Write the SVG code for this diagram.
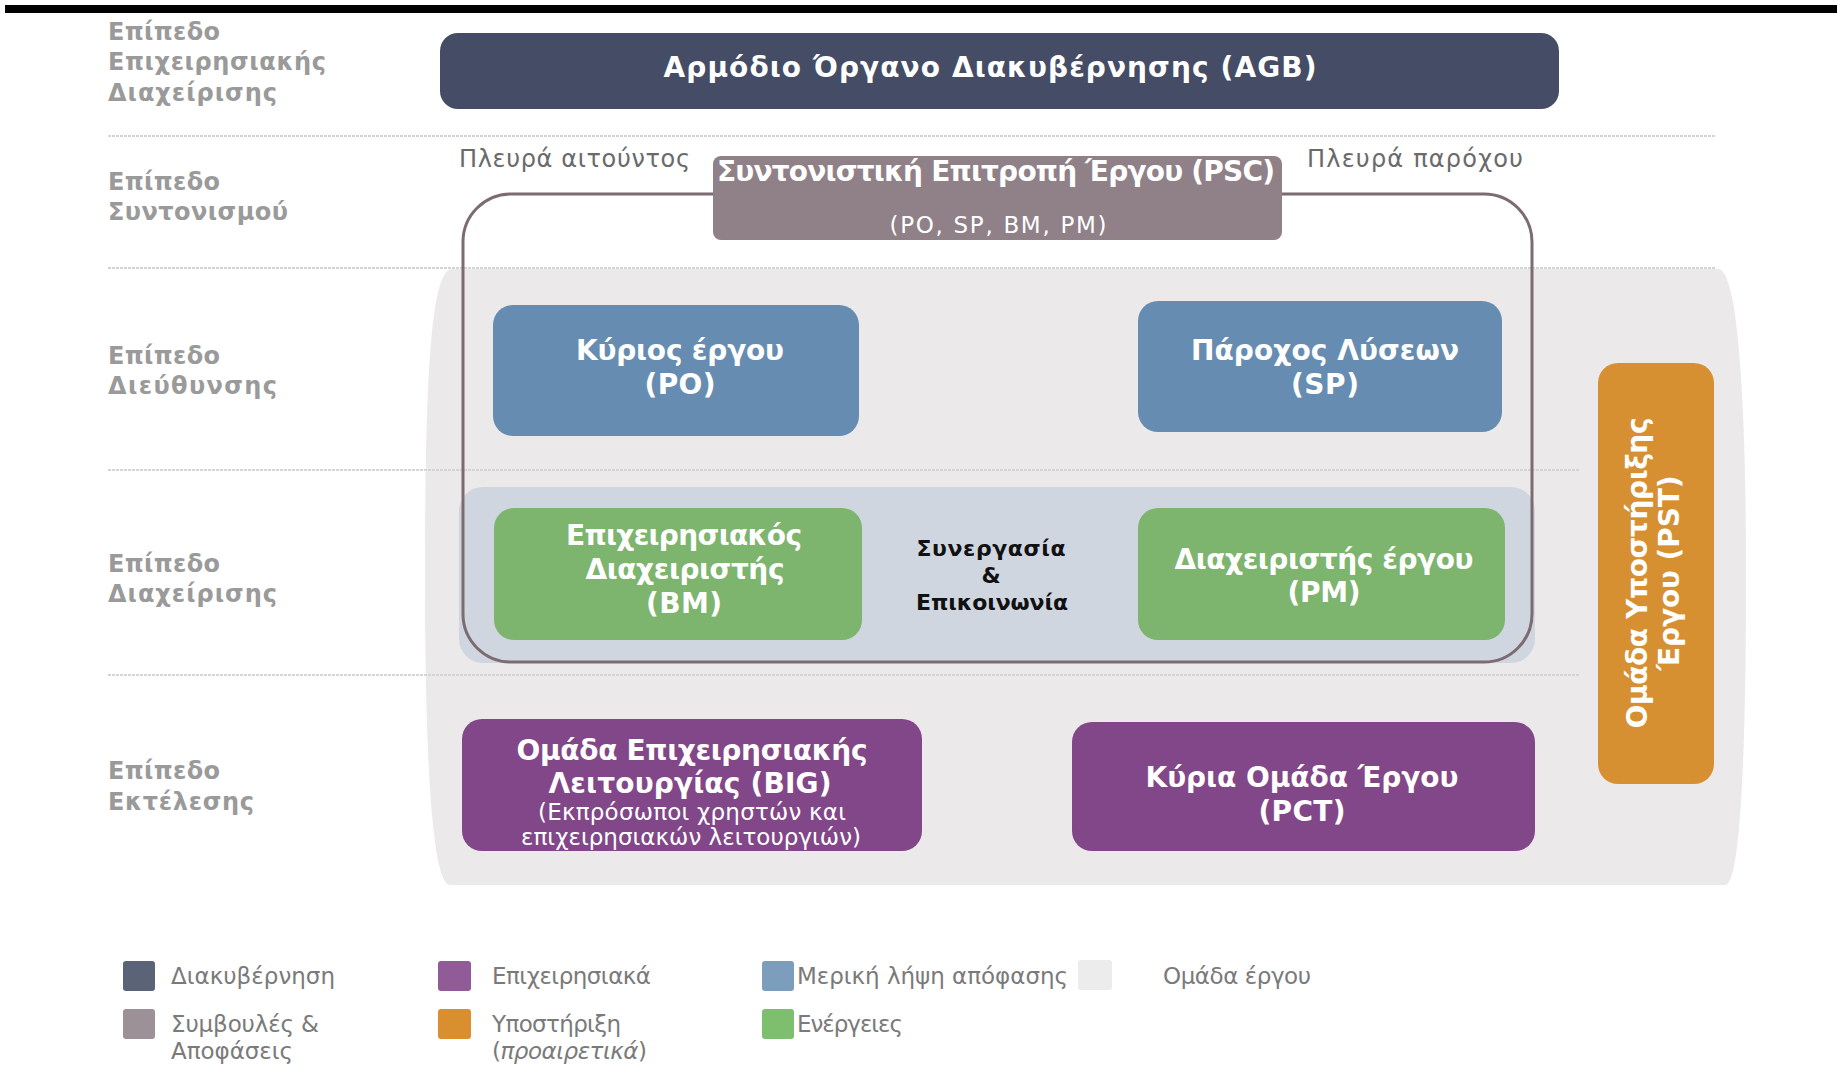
<svg xmlns="http://www.w3.org/2000/svg" width="1837" height="1071" viewBox="0 0 1837 1071">
  <style>
    .lvl { font-family: "DejaVu Sans", Verdana, sans-serif; font-weight: bold; font-size: 24px; fill: #9a9a9a; }
    .side { font-family: "DejaVu Sans", Verdana, sans-serif; font-size: 24px; fill: #6a6a6a; }
    .bt { font-family: "DejaVu Sans", Verdana, sans-serif; font-weight: bold; font-size: 28px; fill: #ffffff; text-anchor: middle; }
    .st { font-family: "DejaVu Sans", Verdana, sans-serif; font-size: 23px; fill: #ffffff; text-anchor: middle; }
    .coop { font-family: "DejaVu Sans", Verdana, sans-serif; font-weight: bold; font-size: 22px; fill: #111111; text-anchor: middle; }
    .leg { font-family: "DejaVu Sans", Verdana, sans-serif; font-size: 23px; fill: #7a7a7a; }
    .sep { stroke: #d4d4d4; stroke-width: 2; stroke-dasharray: 3 1; fill: none; }
  </style>

  <!-- top rule -->
  <rect x="5" y="5" width="1832" height="8" fill="#000000"/>

  <!-- level captions -->
  <g id="levels">
    <text class="lvl" x="108" y="40" textLength="112">Επίπεδο</text>
    <text class="lvl" x="108" y="70" textLength="218">Επιχειρησιακής</text>
    <text class="lvl" x="108" y="101" textLength="169">Διαχείρισης</text>
    <text class="lvl" x="108" y="190" textLength="112">Επίπεδο</text>
    <text class="lvl" x="108" y="220" textLength="180">Συντονισμού</text>
    <text class="lvl" x="108" y="364" textLength="112">Επίπεδο</text>
    <text class="lvl" x="108" y="394" textLength="169">Διεύθυνσης</text>
    <text class="lvl" x="108" y="572" textLength="112">Επίπεδο</text>
    <text class="lvl" x="108" y="602" textLength="169">Διαχείρισης</text>
    <text class="lvl" x="108" y="779" textLength="112">Επίπεδο</text>
    <text class="lvl" x="108" y="810" textLength="146">Εκτέλεσης</text>
  </g>

  <!-- project team backdrop -->
  <path id="team-area" d="M452,269 H1718 C1738,269 1746,400 1746,577 C1746,760 1740,885 1725,885 H450 C432,885 425,760 425,577 C425,400 429,269 452,269 Z" fill="#ebe9ea"/>

  <!-- level separators -->
  <g id="separators">
    <line class="sep" x1="108" y1="136" x2="1716" y2="136"/>
    <line class="sep" x1="108" y1="268" x2="1716" y2="268"/>
    <line class="sep" x1="108" y1="470" x2="1579" y2="470"/>
    <line class="sep" x1="108" y1="675" x2="1579" y2="675"/>
  </g>

  <!-- management band -->
  <rect id="mgmt-band" x="459" y="487" width="1076" height="176" rx="24" fill="#d0d6e0"/>

  <!-- steering committee boundary -->
  <g id="connectors">
    <rect x="463" y="194" width="1069" height="468" rx="48" fill="none" stroke="#7d6b72" stroke-width="3"/>
  </g>

  <g id="agb">
    <rect x="440" y="33" width="1119" height="76" rx="18" fill="#454c66"/>
    <text class="bt" x="990" y="77" font-size="29" textLength="653">Αρμόδιο Όργανο Διακυβέρνησης (AGB)</text>
  </g>

  <text class="side" x="459" y="167" textLength="231">Πλευρά αιτούντος</text>
  <text class="side" x="1307" y="167" textLength="216">Πλευρά παρόχου</text>

  <g id="psc">
    <rect x="713" y="156" width="569" height="84" rx="8" fill="#8f8187"/>
    <text class="bt" x="996" y="181" font-size="27" textLength="558">Συντονιστική Επιτροπή Έργου (PSC)</text>
    <text class="st" x="998" y="233" font-size="25" textLength="217">(PO, SP, BM, PM)</text>
  </g>

  <g id="po">
    <rect x="493" y="305" width="366" height="131" rx="20" fill="#668db1"/>
    <text class="bt" x="680" y="360" textLength="208">Κύριος έργου</text>
    <text class="bt" x="680" y="394" textLength="71">(PO)</text>
  </g>

  <g id="sp">
    <rect x="1138" y="301" width="364" height="131" rx="20" fill="#668db1"/>
    <text class="bt" x="1325" y="360" textLength="268">Πάροχος Λύσεων</text>
    <text class="bt" x="1325" y="394" textLength="68">(SP)</text>
  </g>

  <g id="bm">
    <rect x="494" y="508" width="368" height="132" rx="20" fill="#7db46e"/>
    <text class="bt" x="684" y="545" textLength="236">Επιχειρησιακός</text>
    <text class="bt" x="685" y="579" textLength="199">Διαχειριστής</text>
    <text class="bt" x="684" y="613" textLength="76">(BM)</text>
  </g>

  <g id="coop">
    <text class="coop" x="991" y="556" textLength="149">Συνεργασία</text>
    <text class="coop" x="991" y="583">&amp;</text>
    <text class="coop" x="992" y="610" textLength="152">Επικοινωνία</text>
  </g>

  <g id="pm">
    <rect x="1138" y="508" width="367" height="132" rx="20" fill="#7db46e"/>
    <text class="bt" x="1324" y="569" textLength="299">Διαχειριστής έργου</text>
    <text class="bt" x="1324" y="602" textLength="73">(PM)</text>
  </g>

  <g id="big">
    <rect x="462" y="719" width="460" height="132" rx="20" fill="#824788"/>
    <text class="bt" x="692" y="760" textLength="351">Ομάδα Επιχειρησιακής</text>
    <text class="bt" x="690" y="793" textLength="283">Λειτουργίας (BIG)</text>
    <text class="st" x="692" y="820" textLength="308">(Εκπρόσωποι χρηστών και</text>
    <text class="st" x="691" y="845" textLength="340">επιχειρησιακών  λειτουργιών)</text>
  </g>

  <g id="pct">
    <rect x="1072" y="722" width="463" height="129" rx="20" fill="#824788"/>
    <text class="bt" x="1302" y="787" textLength="313">Κύρια Ομάδα Έργου</text>
    <text class="bt" x="1302" y="821" textLength="87">(PCT)</text>
  </g>

  <g id="pst">
    <rect x="1598" y="363" width="116" height="421" rx="20" fill="#d79031"/>
    <g transform="translate(1656,573) rotate(-90)">
      <text class="bt" x="0" y="-9" font-size="26" textLength="311">Ομάδα Υποστήριξης</text>
      <text class="bt" x="0" y="23" font-size="26" textLength="195">Έργου (PST)</text>
    </g>
  </g>

  <!-- legend -->
  <g id="legend">
    <rect x="123" y="961" width="32" height="30" rx="3" fill="#5b6378"/>
    <text class="leg" x="171" y="984" textLength="164">Διακυβέρνηση</text>
    <rect x="123" y="1009" width="32" height="30" rx="3" fill="#9b9196"/>
    <text class="leg" x="171" y="1032" textLength="148">Συμβουλές &amp;</text>
    <text class="leg" x="171" y="1059" textLength="122">Αποφάσεις</text>

    <rect x="438" y="961" width="33" height="30" rx="3" fill="#915b98"/>
    <text class="leg" x="492" y="984" textLength="159">Επιχειρησιακά</text>
    <rect x="438" y="1009" width="33" height="30" rx="3" fill="#d98f2e"/>
    <text class="leg" x="492" y="1032" textLength="129">Υποστήριξη</text>
    <text class="leg" x="492" y="1059" textLength="155">(<tspan font-style="italic">προαιρετικά</tspan>)</text>

    <rect x="762" y="961" width="32" height="30" rx="3" fill="#7d9dbd"/>
    <text class="leg" x="797" y="984" textLength="271">Μερική λήψη απόφασης</text>
    <rect x="762" y="1009" width="32" height="30" rx="3" fill="#7dbf6f"/>
    <text class="leg" x="797" y="1032" textLength="106">Ενέργειες</text>

    <rect x="1078" y="960" width="34" height="30" rx="3" fill="#ececec"/>
    <text class="leg" x="1163" y="984" textLength="148">Ομάδα έργου</text>
  </g>
</svg>
